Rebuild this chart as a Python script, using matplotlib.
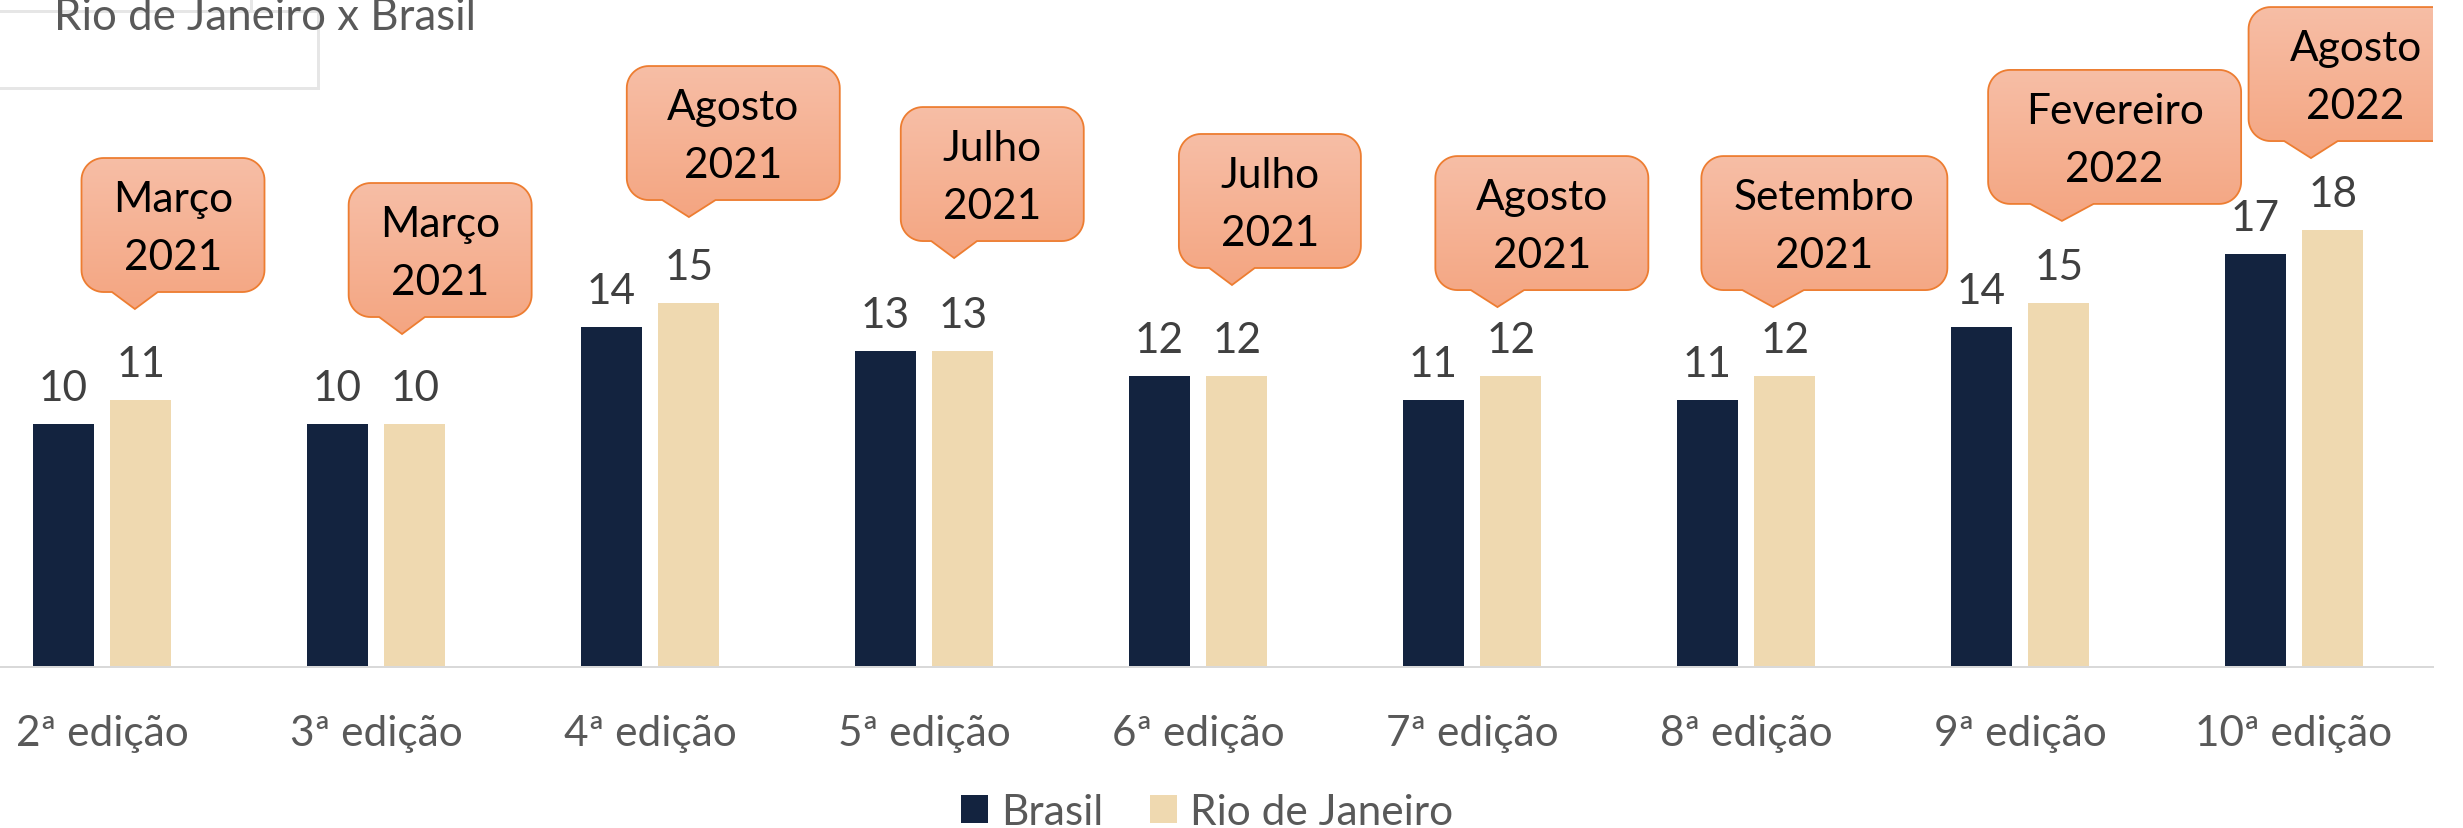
import numpy as np
import matplotlib
matplotlib.use('Agg')
import matplotlib.pyplot as plt
from matplotlib.patches import Polygon, Rectangle
from matplotlib.lines import Line2D
from matplotlib.colors import LinearSegmentedColormap

plt.rcParams['font.family'] = ['Lato', 'DejaVu Sans']

# dados
edicoes = ['2ª edição', '3ª edição', '4ª edição', '5ª edição', '6ª edição',
           '7ª edição', '8ª edição', '9ª edição', '10ª edição']
brasil = [10, 10, 14, 13, 12, 11, 11, 14, 17]
rio = [11, 10, 15, 13, 12, 12, 12, 15, 18]
periodos = ['Março\n2021', 'Março\n2021', 'Agosto\n2021', 'Julho\n2021', 'Julho\n2021',
            'Agosto\n2021', 'Setembro\n2021', 'Fevereiro\n2022', 'Agosto\n2022']

# layout (pixels da imagem final)
W, H, DPI = 2463, 829, 100
PX_X = 274.0     # px por categoria
PX_Y = 24.27     # px por unidade de y
BASE = 668       # linha de base (px a partir do topo)
RIGHT = 2433
FS = 30.5        # tamanho dos rotulos
PT = 72.0 / DPI  # px -> pt

# posicao das pontas dos baloes (deslocamento da categoria, valor y) e largura em px
tip_dx = [0.12, 0.095, 0.142, 0.11, 0.124, 0.093, 0.099, 0.153, 0.062]
tip_y = [14.75, 13.72, 18.54, 16.85, 15.74, 14.83, 14.83, 18.38, 20.97]
box_w = [183, 183, 213, 183, 182, 213, 246, 253, 214]
BOX_H = 134
TIP = 17
RAD = 22

c_brasil = '#13233f'
c_rio = '#efd9b0'

fig = plt.figure(figsize=(W / DPI, H / DPI), dpi=DPI)

# titulo e caixa (recortados na imagem original)
fig.add_artist(Rectangle((-10 / W, 1 - 89 / H), 328 / W, 77 / H, transform=fig.transFigure,
                         fill=False, ec='#e6e6e6', lw=3 * PT, zorder=0))
fig.add_artist(Line2D([251 / W, 251 / W], [1, 1 - 12 / H], transform=fig.transFigure,
                      color='#e6e6e6', lw=3 * PT, zorder=0))
fig.text(54 / W, 1 - 30 / H, 'Rio de Janeiro x Brasil', ha='left', va='baseline',
         fontsize=31.5, color='#595959', zorder=1)

ax = fig.add_axes([0, 1 - BASE / H, RIGHT / W, BASE / H])
ax.patch.set_visible(False)

x = np.arange(len(edicoes))
bw = 0.2226
ax.bar(x - 0.142, brasil, bw, color=c_brasil, label='Brasil', zorder=2)
ax.bar(x + 0.142, rio, bw, color=c_rio, label='Rio de Janeiro', zorder=2)

for xi, b, r in zip(x, brasil, rio):
    for xx, v in ((xi - 0.142, b), (xi + 0.142, r)):
        ax.annotate(str(v), (xx, v), xytext=(0, 24 * PT), textcoords='offset points',
                    ha='center', va='baseline', fontsize=FS, color='#404040')

cmap = LinearSegmentedColormap.from_list('bal', ['#f7bea6', '#f4a581'])


def balao(xt, yt, wpx, txt):
    wx = wpx / PX_X
    left = xt - 0.2917 * wx
    bottom = yt + TIP / PX_Y

    def to_data(u, v):
        return (left + u / PX_X, bottom + v / PX_Y)

    pts = []
    pts.append(to_data(RAD, 0))
    pts.append(to_data(wpx / 6.0, 0))
    pts.append(to_data(0.2917 * wpx, -TIP))
    pts.append(to_data(wpx * 5 / 12.0, 0))
    corners = [((wpx - RAD, RAD), -90, 0), ((wpx - RAD, BOX_H - RAD), 0, 90),
               ((RAD, BOX_H - RAD), 90, 180), ((RAD, RAD), 180, 270)]
    for (cu, cv), a0, a1 in corners:
        for a in np.linspace(np.radians(a0), np.radians(a1), 16):
            pts.append(to_data(cu + RAD * np.cos(a), cv + RAD * np.sin(a)))
    poly = Polygon(pts, closed=True, facecolor='none', edgecolor='#ed7d31',
                   lw=1.3, zorder=4)
    ax.add_patch(poly)
    top = bottom + BOX_H / PX_Y
    im = ax.imshow(np.linspace(0, 1, 256).reshape(-1, 1), cmap=cmap,
                   extent=(left, left + wx, yt, top), origin='upper',
                   aspect='auto', zorder=3, interpolation='bilinear')
    im.set_clip_path(poly)
    cx = left + wx / 2
    cy = (bottom + top) / 2
    l1, l2 = txt.split('\n')
    ax.text(cx, cy + 14 / PX_Y, l1, ha='center', va='baseline', fontsize=FS,
            color='black', zorder=5)
    ax.text(cx, cy - 44 / PX_Y, l2, ha='center', va='baseline', fontsize=FS,
            color='black', zorder=5)


for i, p in enumerate(periodos):
    balao(x[i] + tip_dx[i], tip_y[i], box_w[i], p)

ax.set_xlim(-102 / PX_X, (RIGHT - 102) / PX_X)
ax.set_ylim(0, BASE / PX_Y)

for s in ['top', 'right', 'left']:
    ax.spines[s].set_visible(False)
ax.spines['bottom'].set_color('#d9d9d9')
ax.spines['bottom'].set_linewidth(2 * PT)
ax.set_yticks([])
ax.set_xticks(x, edicoes)
ax.tick_params(axis='x', length=0, pad=78 * PT, labelsize=FS, labelcolor='#595959')
for lab in ax.get_xticklabels():
    lab.set_va('baseline')

fig.legend(loc='center', bbox_to_anchor=(1207 / W, 1 - 813 / H), ncol=2,
           frameon=False, fontsize=FS, labelcolor='#595959',
           handlelength=0.64, handleheight=0.64, handletextpad=0.3,
           columnspacing=1.1, borderpad=0, borderaxespad=0)

fig.savefig('out.png', dpi=DPI)
